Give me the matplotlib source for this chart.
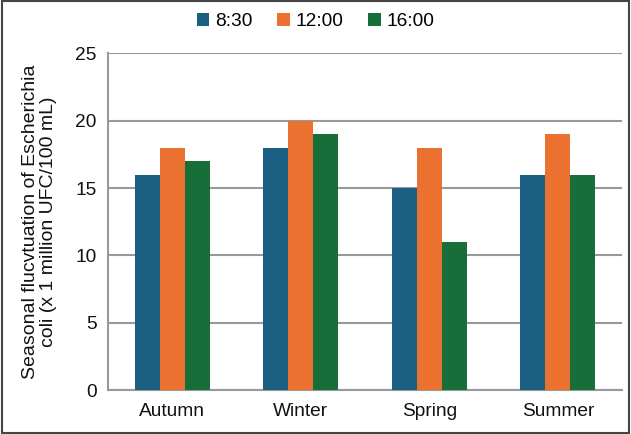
import numpy as np
import matplotlib.pyplot as plt
from matplotlib.patches import Rectangle

plt.rcParams['font.family'] = ['Liberation Sans', 'DejaVu Sans']

seasons = ['Autumn', 'Winter', 'Spring', 'Summer']
times = ['8:30', '12:00', '16:00']
t0830 = [16, 18, 15, 16]
t1200 = [18, 20, 18, 19]
t1600 = [17, 19, 11, 16]
colors = ['#1b5f83', '#ea712f', '#176e38']

fig = plt.figure(figsize=(6.31, 4.34), dpi=100)
ax = fig.add_axes([0.171, 0.101, 0.815, 0.776])

x = np.arange(len(seasons))
w = 0.195
for i, (vals, c, lab) in enumerate(zip([t0830, t1200, t1600], colors, times)):
    ax.bar(x + (i - 1) * w, vals, w, color=c, label=lab, zorder=3)

ax.set_xlim(-0.5, 3.5)
ax.set_ylim(0, 25)
ax.set_yticks([0, 5, 10, 15, 20, 25])
ax.set_xticks(x)
ax.set_xticklabels(seasons)
ax.tick_params(axis='both', length=0, labelsize=13.8, colors='#111111')
ax.tick_params(axis='y', pad=8)
ax.tick_params(axis='x', pad=9)
ax.grid(axis='y', color='#999999', linewidth=1.5, zorder=0)
for s in ['top', 'right']:
    ax.spines[s].set_visible(False)
for s in ['left', 'bottom']:
    ax.spines[s].set_color('#999999')
    ax.spines[s].set_linewidth(1.5)

ax.set_ylabel('Seasonal flucvtuation of Escherichia\ncoli (x 1 million UFC/100 mL)',
              fontsize=14, labelpad=13, color='#111111', linespacing=1.1)

fig.legend(loc='center', bbox_to_anchor=(0.5, 0.95), ncol=3, frameon=False,
           fontsize=13.8, handlelength=0.65, handleheight=0.65, handletextpad=0.3,
           columnspacing=1.3)

fig.patches.append(Rectangle((0.003, 0.003), 0.994, 0.994, transform=fig.transFigure,
                             fill=False, edgecolor='#444444', linewidth=1.5))

fig.savefig('out.png', dpi=100)
